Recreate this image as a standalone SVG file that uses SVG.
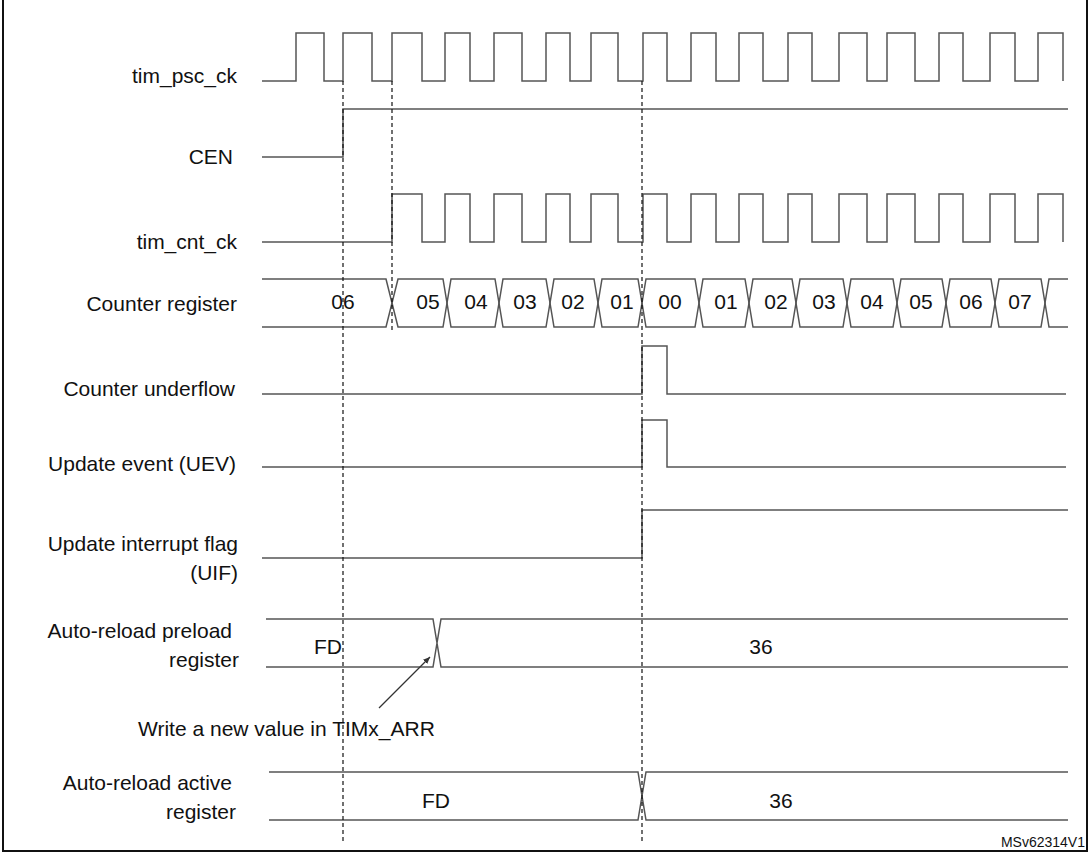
<svg xmlns="http://www.w3.org/2000/svg" width="1091" height="853" viewBox="0 0 1091 853">
<style>
.w{fill:none;stroke:#555;stroke-width:1.5}
.d{fill:none;stroke:#111;stroke-width:1.2;stroke-dasharray:4,3}
text{font-family:"Liberation Sans",Arial,sans-serif;font-size:21px;fill:#111}
.l{text-anchor:end}
.c{text-anchor:middle}
</style>
<defs>
<marker id="ah" markerWidth="8" markerHeight="8" refX="7" refY="4" orient="auto" markerUnits="userSpaceOnUse"><path d="M0,1 L7,4 L0,7 Z" fill="#333"/></marker>
</defs>
<rect x="3" y="-2" width="1084" height="853" fill="#fff" stroke="#111" stroke-width="2"/>
<g id="labels">
<text class="l" x="237" y="83">tim_psc_ck</text>
<text class="l" x="233" y="164">CEN</text>
<text class="l" x="237" y="249">tim_cnt_ck</text>
<text class="l" x="237" y="311">Counter register</text>
<text class="l" x="235" y="396">Counter underflow</text>
<text class="l" x="236" y="471">Update event (UEV)</text>
<text class="l" x="238" y="551">Update interrupt flag</text>
<text class="l" x="238" y="580">(UIF)</text>
<text class="l" x="232" y="638">Auto-reload preload</text>
<text class="l" x="239" y="667">register</text>
<text class="l" x="232" y="790">Auto-reload active</text>
<text class="l" x="236" y="819">register</text>
</g>
<g id="tim_psc_ck"><path class="w" d="M262,81 H296 V33 H324 V81 H343 V33 H372 V81 H392 V33 H422 V81 H445 V33 H470 V81 H494 V33 H522 V81 H546 V33 H570 V81 H591 V33 H618 V81 H643 V33 H667 V81 H691 V33 H716 V81 H739 V33 H763 V81 H788 V33 H812 V81 H839 V33 H867 V81 H887 V33 H915 V81 H939 V33 H963 V81 H990 V33 H1015 V81 H1038 V33 H1063 V81"/></g>
<g id="CEN"><path class="w" d="M262,157 H343 V109 H1068"/></g>
<g id="tim_cnt_ck"><path class="w" d="M262,242 H392 V194 H422 V242 H445 V194 H470 V242 H494 V194 H522 V242 H546 V194 H570 V242 H591 V194 H618 V242 H643 V194 H667 V242 H691 V194 H716 V242 H739 V194 H763 V242 H788 V194 H812 V242 H839 V194 H867 V242 H887 V194 H915 V242 H939 V194 H963 V242 H990 V194 H1015 V242 H1038 V194 H1063 V242"/></g>
<g id="counter">
<path class="w" d="M262,279 H386 L398,327 H443 L451,279 H495 L503,327 H546 L554,279 H594 L602,327 H638 L646,279 H695 L703,327 H745 L753,279 H792 L800,327 H843 L851,279 H893 L901,327 H942 L950,279 H991 L999,327 H1041 L1049,279 H1068"/>
<path class="w" d="M262,327 H386 L398,279 H443 L451,327 H495 L503,279 H546 L554,327 H594 L602,279 H638 L646,327 H695 L703,279 H745 L753,327 H792 L800,279 H843 L851,327 H893 L901,279 H942 L950,327 H991 L999,279 H1041 L1049,327 H1068"/>
<text class="c" x="343" y="309">06</text><text class="c" x="428" y="309">05</text><text class="c" x="476" y="309">04</text><text class="c" x="525" y="309">03</text><text class="c" x="573" y="309">02</text><text class="c" x="622" y="309">01</text><text class="c" x="670" y="309">00</text><text class="c" x="726" y="309">01</text><text class="c" x="776" y="309">02</text><text class="c" x="824" y="309">03</text><text class="c" x="872" y="309">04</text><text class="c" x="921" y="309">05</text><text class="c" x="971" y="309">06</text><text class="c" x="1020" y="309">07</text>
</g>
<g id="underflow"><path class="w" d="M262,394 H642 V346 H667 V394 H1066"/></g>
<g id="uev"><path class="w" d="M262,467 H642 V420 H667 V467 H1066"/></g>
<g id="uif"><path class="w" d="M262,558 H642 V510 H1068"/></g>
<g id="preload">
<path class="w" d="M266,619 H433 L441,667 H1068 M266,667 H433 L441,619 H1068"/>
<text class="c" x="328" y="654">FD</text><text class="c" x="761" y="654">36</text>
</g>
<g id="active">
<path class="w" d="M269,772 H638 L646,820 H1068 M269,820 H638 L646,772 H1068"/>
<text class="c" x="436" y="808">FD</text><text class="c" x="781" y="808">36</text>
</g>
<g id="connectors">
<line x1="343" y1="81" x2="343" y2="842" class="d"/>
<line x1="392" y1="81" x2="392" y2="333" class="d"/>
<line x1="642" y1="81" x2="642" y2="842" class="d"/>
<line x1="379" y1="708" x2="430" y2="657" stroke="#333" stroke-width="1.2" marker-end="url(#ah)"/>
</g>
<text x="138" y="736">Write a new value in TIMx_ARR</text>
<text class="l" x="1085" y="847" style="font-size:14px">MSv62314V1</text>
</svg>
